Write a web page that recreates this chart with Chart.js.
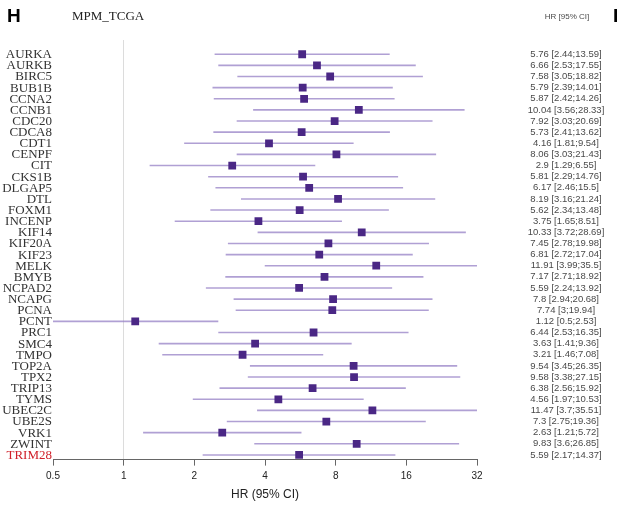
<!DOCTYPE html>
<html>
<head>
<meta charset="utf-8">
<script src="https://cdn.jsdelivr.net/npm/chart.js@4.4.1/dist/chart.umd.min.js"></script>
<style>
  html, body { margin: 0; padding: 0; background: #fff; }
  #wrap { width: 621px; height: 506px; position: relative; }
</style>
</head>
<body>
<div id="wrap"><canvas id="forest"></canvas></div>
<script>
// ================== DADOS ==================
const genes = ["AURKA", "AURKB", "BIRC5", "BUB1B", "CCNA2", "CCNB1", "CDC20", "CDCA8", "CDT1", "CENPF",
  "CIT", "CKS1B", "DLGAP5", "DTL", "FOXM1", "INCENP", "KIF14", "KIF20A", "KIF23", "MELK",
  "BMYB", "NCPAD2", "NCAPG", "PCNA", "PCNT", "PRC1", "SMC4", "TMPO", "TOP2A", "TPX2",
  "TRIP13", "TYMS", "UBEC2C", "UBE2S", "VRK1", "ZWINT", "TRIM28"];

const hr = [5.76, 6.66, 7.58, 5.79, 5.87, 10.04, 7.92, 5.73, 4.16, 8.06,
  2.9, 5.81, 6.17, 8.19, 5.62, 3.75, 10.33, 7.45, 6.81, 11.91,
  7.17, 5.59, 7.8, 7.74, 1.12, 6.44, 3.63, 3.21, 9.54, 9.58,
  6.38, 4.56, 11.47, 7.3, 2.63, 9.83, 5.59];

const ciLow = [2.44, 2.53, 3.05, 2.39, 2.42, 3.56, 3.03, 2.41, 1.81, 3.03,
  1.29, 2.29, 2.46, 3.16, 2.34, 1.65, 3.72, 2.78, 2.72, 3.99,
  2.71, 2.24, 2.94, 3, 0.5, 2.53, 1.41, 1.46, 3.45, 3.38,
  2.56, 1.97, 3.7, 2.75, 1.21, 3.6, 2.17];

const ciHigh = [13.59, 17.55, 18.82, 14.01, 14.26, 28.33, 20.69, 13.62, 9.54, 21.43,
  6.55, 14.76, 15.5, 21.24, 13.48, 8.51, 28.69, 19.98, 17.04, 35.5,
  18.92, 13.92, 20.68, 19.94, 2.53, 16.35, 9.36, 7.08, 26.35, 27.15,
  15.92, 10.53, 35.51, 19.36, 5.72, 26.85, 14.37];

const xTicks = [0.5, 1, 2, 4, 8, 16, 32];

// ================== MONTAGEM ==================
const pontos = hr.map((v, i) => ({ x: v, y: i }));

// um dataset de linha por gene (intervalo de confiança)
const segmentos = ciLow.map((lo, i) => ({
  type: "line",
  data: [{ x: lo, y: i }, { x: ciHigh[i], y: i }],
  borderColor: "rgba(150,128,198,0.75)",
  borderWidth: 1.6,
  pointRadius: 0,
  order: 2,
}));

// textos fora da área do gráfico
const textosPlugin = {
  id: "textos",
  afterDraw(chart) {
    const c = chart.ctx;
    const y = chart.scales.y;
    c.save();
    c.textBaseline = "middle";

    // nomes dos genes
    c.font = "13px 'Liberation Serif'";
    c.textAlign = "right";
    genes.forEach((g, i) => {
      c.fillStyle = g === "TRIM28" ? "#d0202a" : "#333";
      c.fillText(g, 52, y.getPixelForValue(i) + 0.5);
    });

    // coluna HR [95% CI]
    c.font = "9.5px 'Liberation Sans'";
    c.textAlign = "center";
    c.fillStyle = "#4a4a4a";
    hr.forEach((v, i) => {
      c.fillText(v + " [" + ciLow[i] + ";" + ciHigh[i] + "]", 566, y.getPixelForValue(i));
    });
    c.font = "8px 'Liberation Sans'";
    c.fillText("HR [95% CI]", 567, 17);

    // cabeçalho
    c.fillStyle = "#222";
    c.textAlign = "left";
    c.font = "13px 'Liberation Serif'";
    c.fillText("MPM_TCGA", 72, 17);
    c.fillStyle = "#000";
    c.font = "bold 19px 'Liberation Sans'";
    c.fillText("H", 7, 17);
    c.fillText("I", 613, 17);
    c.restore();
  },
};

new Chart(document.getElementById("forest"), {
  type: "scatter",
  data: {
    datasets: [
      ...segmentos,
      {
        data: pontos,
        pointStyle: "rect",
        pointRadius: 5.5,
        backgroundColor: "#4a2785",
        borderColor: "#4a2785",
        borderWidth: 0,
        order: 1,
      },
    ],
  },
  options: {
    responsive: true,
    maintainAspectRatio: false,
    animation: false,
    layout: { padding: { left: 53, right: 144, top: 40, bottom: 4 } },
    plugins: { legend: { display: false }, tooltip: { enabled: false } },
    scales: {
      x: {
        type: "logarithmic",
        min: 0.5,
        max: 32,
        afterBuildTicks: (scale) => {
          scale.ticks = xTicks.map((v) => ({ value: v }));
        },
        ticks: {
          callback: (v) => String(v),
          color: "#222",
          font: { family: "'Liberation Sans'", size: 10 },
          padding: 5,
          autoSkip: false,
          maxRotation: 0,
        },
        grid: {
          color: (ctx) => (ctx.tick && ctx.tick.value === 1 ? "#dcdcdc" : "rgba(0,0,0,0)"),
          tickColor: "#666",
          tickLength: 6,
          lineWidth: 1,
        },
        border: { display: true, color: "#666", width: 1 },
        title: {
          display: true,
          text: "HR (95% CI)",
          color: "#222",
          font: { family: "'Liberation Sans'", size: 12 },
          padding: { top: 0, bottom: 0 },
        },
      },
      y: {
        type: "linear",
        display: false,
        reverse: true,
        min: -1.28,
        max: 36.42,
      },
    },
  },
  plugins: [textosPlugin],
});
</script>
</body>
</html>
